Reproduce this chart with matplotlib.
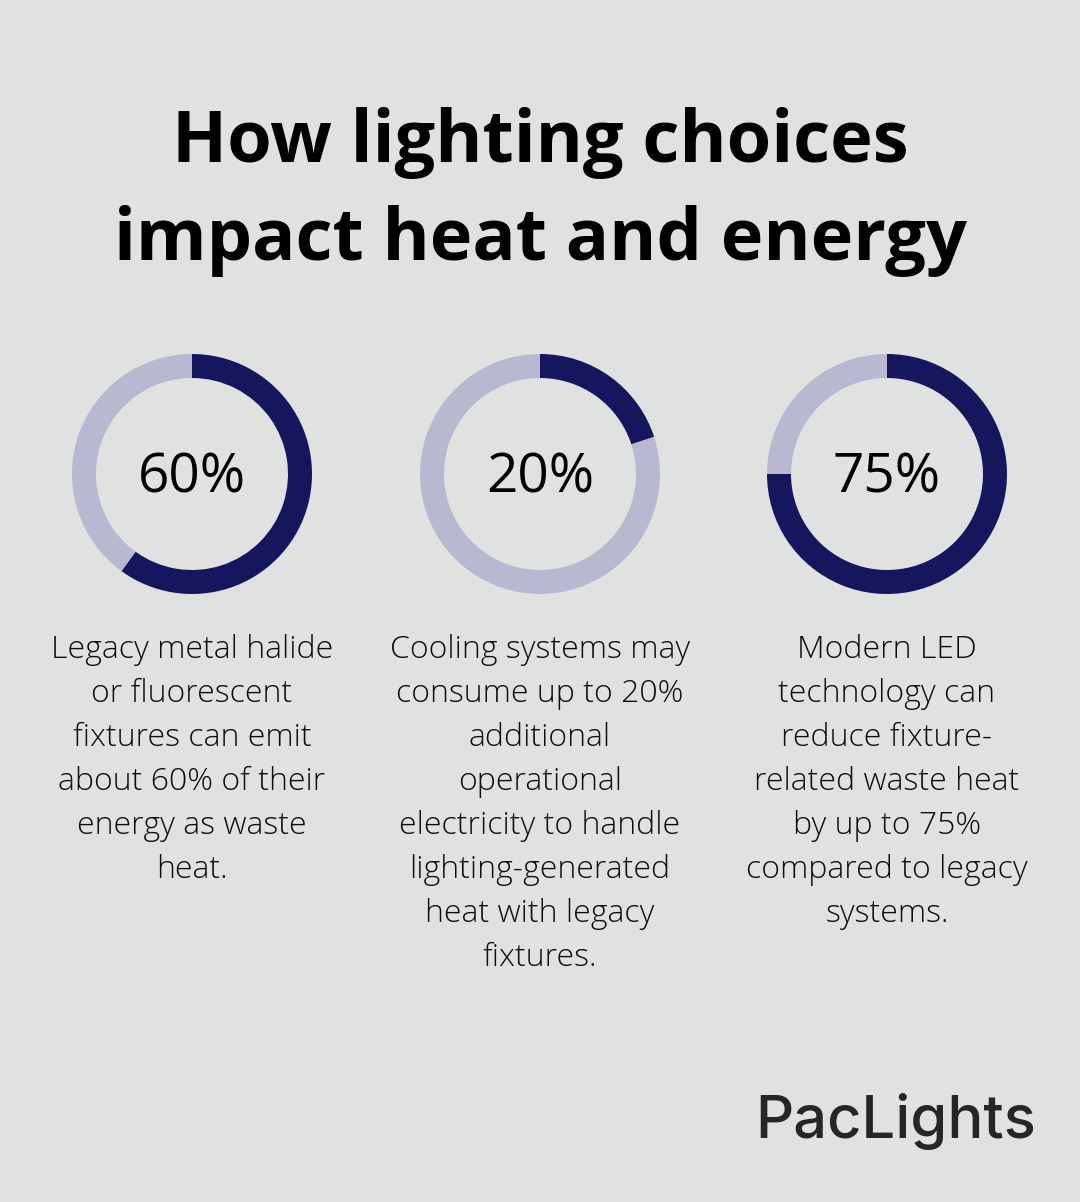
import matplotlib
matplotlib.use("Agg")
import matplotlib.pyplot as plt

W, H = 1080, 1202
BG = "#E0E2E1"
DARK = "#16165E"
LIGHT = "#B8B9D0"

title_lines = ["How lighting choices", "impact heat and energy"]
values = [60, 20, 75]
labels = ["60%", "20%", "75%"]
descriptions = [
    ["Legacy metal halide", "or fluorescent", "fixtures can emit", "about 60% of their", "energy as waste", "heat."],
    ["Cooling systems may", "consume up to 20%", "additional", "operational", "electricity to handle", "lighting-generated", "heat with legacy", "fixtures."],
    ["Modern LED", "technology can", "reduce fixture-", "related waste heat", "by up to 75%", "compared to legacy", "systems."],
]
brand = "PacLights"

centers_x = [192, 540, 887]
cy = 474
R = 120
ring = 24

fig = plt.figure(figsize=(W / 100, H / 100), dpi=100, facecolor=BG)
bg = fig.add_axes([0, 0, 1, 1])
bg.set_xlim(0, W)
bg.set_ylim(H, 0)
bg.axis("off")
bg.set_facecolor(BG)

for i, line in enumerate(title_lines):
    bg.text(540, 143 + i * 98, line, ha="center", va="center", fontsize=51.8,
            fontweight="bold", family=["Open Sans", "DejaVu Sans"], color="#000000")

for cx, v, lab, desc in zip(centers_x, values, labels, descriptions):
    ax = fig.add_axes([(cx - R) / W, 1 - (cy + R) / H, 2 * R / W, 2 * R / H])
    ax.pie([v, 100 - v], radius=1, startangle=90, counterclock=False,
           colors=[DARK, LIGHT], wedgeprops=dict(width=ring / R, linewidth=0))
    ax.set_xlim(-1, 1)
    ax.set_ylim(-1, 1)
    ax.set_aspect("equal")
    ax.axis("off")
    bg.text(cx, cy + 4, lab, ha="center", va="center", fontsize=39.5,
            family=["Open Sans", "DejaVu Sans"], color="#000000")
    for j, line in enumerate(desc):
        bg.text(cx, 650 + j * 44, line, ha="center", va="center", fontsize=23,
                fontweight="light", family=["Open Sans", "DejaVu Sans"], color="#0d0d0d")

bg.text(1036, 1122, brand, ha="right", va="center", fontsize=43,
        fontweight="medium", family=["Inter", "DejaVu Sans"], color="#262626")

fig.savefig("out.png", dpi=100, facecolor=BG)
